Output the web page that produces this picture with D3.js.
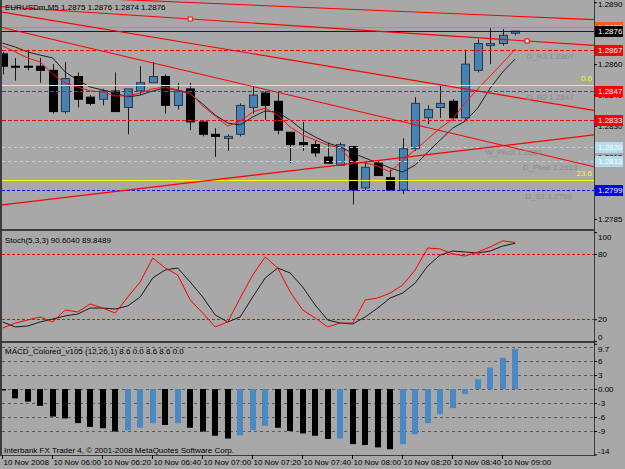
<!DOCTYPE html>
<html>
<head>
<meta charset="utf-8">
<script src="https://cdnjs.cloudflare.com/ajax/libs/d3/7.8.5/d3.min.js"></script>
<style>
html, body { margin: 0; padding: 0; background: #a8a8a8; }
svg { display: block; font-family: "Liberation Sans", Arial, sans-serif; }
</style>
</head>
<body>
<div id="chart"></div>
<script>
// ---- data (EURUSDm M5, 10 Nov 2008 05:40 .. 09:05) ----
var opens  = [1.2865,1.2859,1.2859,1.2859,1.2857,1.2837,1.2854,1.2844,1.2843,1.2847,1.2839,1.2847,1.2851,1.2854,1.2840,1.2848,1.2832,1.2826,1.2824,1.2826,1.2839,1.2846,1.2842,1.2827,1.2822,1.2821,1.2815,1.2811,1.2820,1.2800,1.2812,1.2805,1.2799,1.2819,1.2834,1.2839,1.2842,1.2834,1.2857,1.2869,1.2870,1.2875];
var highs  = [1.2866,1.2863,1.2867,1.2863,1.2860,1.2861,1.2856,1.2845,1.2848,1.2856,1.2848,1.2859,1.2861,1.2855,1.2851,1.2851,1.2832,1.2829,1.2826,1.2841,1.2849,1.2847,1.2847,1.2827,1.2832,1.2823,1.2822,1.2822,1.2820,1.2813,1.2813,1.2809,1.2824,1.2844,1.2840,1.2850,1.2843,1.2867,1.2872,1.2878,1.2877,1.2876];
var lows   = [1.2855,1.2852,1.2857,1.2851,1.2836,1.2836,1.2839,1.2840,1.2840,1.2837,1.2826,1.2845,1.2851,1.2836,1.2838,1.2828,1.2825,1.2815,1.2818,1.2825,1.2836,1.2833,1.2826,1.2812,1.2818,1.2815,1.2812,1.2811,1.2792,1.2799,1.2806,1.2799,1.2797,1.2818,1.2831,1.2834,1.2833,1.2833,1.2856,1.2860,1.2869,1.2874];
var closes = [1.2859,1.2859,1.2859,1.2857,1.2837,1.2853,1.2843,1.2841,1.2847,1.2837,1.2848,1.2851,1.2854,1.2840,1.2847,1.2832,1.2826,1.2825,1.2825,1.2840,1.2845,1.2840,1.2828,1.2821,1.2821,1.2817,1.2812,1.2821,1.2799,1.2810,1.2806,1.2799,1.2819,1.2841,1.2838,1.2841,1.2834,1.2860,1.2870,1.2870,1.2874,1.2876];

// moving averages
var maRed   = [1.28688,1.28659,1.28630,1.28610,1.28552,1.28509,1.28489,1.28470,1.28465,1.28446,1.28446,1.28460,1.28480,1.28489,1.28475,1.28460,1.28397,1.28349,1.28300,1.28324,1.28368,1.28387,1.28353,1.28295,1.28257,1.28232,1.28208,1.28194,1.28126,1.28121,1.28106,1.28077,1.28135,1.28184,1.28237,1.28290,1.28334,1.28412,1.28480,1.28543,1.28606,1.28673];
var maBlack = [1.28702,1.28683,1.28659,1.28644,1.28630,1.28562,1.28523,1.28489,1.28475,1.28460,1.28441,1.28450,1.28470,1.28484,1.28475,1.28455,1.28407,1.28353,1.28315,1.28305,1.28344,1.28373,1.28368,1.28329,1.28281,1.28247,1.28218,1.28198,1.28169,1.28145,1.28121,1.28097,1.28077,1.28111,1.28174,1.28232,1.28290,1.28324,1.28387,1.28484,1.28562,1.28625];

// Stochastic (5,3,3)
var stochMain   = [11.9,16.5,19.3,22.1,17.5,28.5,26.7,34.0,30.3,25.7,40.4,54.2,76.3,67.1,60.7,37.7,25.7,12.9,17.5,39.5,60.7,77.2,67.1,45.0,28.5,21.1,12.9,16.5,16.5,37.7,39.5,44.1,51.5,65.3,85.5,84.6,80.0,78.1,81.8,86.4,92.0,90.6];
var stochSignal = [17.5,12.9,13.8,17.5,20.2,23.0,24.8,30.3,30.3,29.4,32.2,40.4,57.9,65.3,67.1,54.2,40.4,23.9,17.5,22.1,40.4,57.9,67.1,62.5,49.6,33.1,19.3,16.5,15.6,22.1,30.3,39.5,44.1,53.3,68.9,79.0,82.7,81.8,80.9,82.7,87.3,89.8];

// MACD histogram
var macdHist = [-0.3,-2.0,-2.7,-3.6,-5.9,-6.3,-7.3,-8.1,-8.4,-9.1,-8.8,-8.3,-7.3,-7.7,-7.3,-8.3,-9.1,-10.0,-10.6,-9.9,-8.8,-7.9,-8.3,-9.0,-9.5,-10.0,-10.7,-10.6,-11.8,-12.0,-12.5,-12.9,-11.8,-9.7,-7.3,-5.4,-4.1,-1.1,2.1,4.6,6.7,8.6];

// time axis
var timeIdx    = [0,4,8,12,16,20,24,28,32,36,40];
var timeLabels = ["10 Nov 2008","10 Nov 06:00","10 Nov 06:20","10 Nov 06:40","10 Nov 07:00","10 Nov 07:20","10 Nov 07:40","10 Nov 08:00","10 Nov 08:20","10 Nov 08:40","10 Nov 09:00"];

// price axis
var priceTicks = [1.2890,1.2875,1.2860,1.2845,1.2830,1.2815,1.2800,1.2785];
var stochTicks = [100,80,20,0];
var stochLevels = [80,20];
var macdTicks = [9.7,6,3,0,-3,-6,-9,-14];
var macdTickLabels = ["9.7","6","3","0.00","-3","-6","-9","-14"];
var macdLevels = [9,6,3,0,-3,-6,-9];

// chart objects
var redLevels   = [1.2867,1.2847,1.2833];
var cyanLevels  = [1.2820,1.2813];
var blueLevels  = [1.2799];
var fibLevels   = [1.2850,1.2804];
var fibLabels   = ["0.0","23.6"];
var bidPrice = 1.2876;
var askLine  = 1.2878;
var pivotNames  = ["D_R3 1.2867","D_R2 1.2847","W_Pivot 1.2820","D_Pivot 1.2813","D_S1 1.2799"];
var pivotPrices = [1.2867,1.2847,1.2820,1.2813,1.2799];
var pivotAt     = [41.9,41.9,38.6,41.6,41.8];   // bar position of the label text
// trend lines: [barIndex, price] pairs
var trendLines = [
  [[10.2,1.28911],[47.3,1.28816]],
  [[-0.22,1.28879],[47.3,1.28691]],
  [[-0.22,1.28854],[47.3,1.28376]],
  [[-0.22,1.28780],[47.3,1.28103]],
  [[-0.22,1.27917],[47.3,1.28257]]
];
var trendMarks = [[15,1],[41.95,1]]; // [barIndex, trend line number]

// price label boxes on the right scale
var boxPrices = [1.2878,1.2876,1.2867,1.2847,1.2833,1.2820,1.2813,1.2799];
var boxFills  = ["#ff5a1e","#000000","#ff0000","#ff0000","#ff0000","#b4dcec","#b4dcec","#0000ff"];

// ---- layout ----
var W = 625, H = 469;
var plotL = 2, plotR = 594;
var mainTop = 0, mainBot = 229, stTop = 231, stBot = 341, mdTop = 343, mdBot = 455;
var N = closes.length;

var x  = d3.scaleLinear().domain([0, 41]).range([2.7, 515.2]);
var yP = d3.scaleLinear().domain([1.2785, 1.2890]).range([218.9, 2.25]);
var yS = d3.scaleLinear().domain([0, 100]).range([341, 232.2]);
var yM = d3.scaleLinear().domain([-14, 9.7]).range([454.4, 343.7]);

var svg = d3.select("#chart").append("svg")
    .attr("width", W)
    .attr("height", H);

svg.append("rect").attr("width", W).attr("height", H).attr("fill", "#a8a8a8");

var defs = svg.append("defs");
function addClip(id, y0, y1) {
  defs.append("clipPath").attr("id", id)
    .append("rect").attr("x", plotL).attr("y", y0).attr("width", plotR - plotL).attr("height", y1 - y0);
}
addClip("clipMain", mainTop, mainBot);
addClip("clipSt", stTop, stBot);
addClip("clipMd", mdTop, mdBot);

// ---- main pane ----
var gMain = svg.append("g").attr("clip-path", "url(#clipMain)");

var candles = d3.range(N).map(function(i) {
  return {i: i, o: opens[i], h: highs[i], l: lows[i], c: closes[i]};
});

gMain.selectAll("line.wick").data(candles).join("line")
  .attr("class", "wick")
  .attr("x1", function(d) { return Math.round(x(d.i)) + 0.5; })
  .attr("x2", function(d) { return Math.round(x(d.i)) + 0.5; })
  .attr("y1", function(d) { return yP(d.h); })
  .attr("y2", function(d) { return yP(d.l); })
  .attr("stroke", "#1a1a1a")
  .attr("stroke-width", 1);

gMain.selectAll("rect.body").data(candles).join("rect")
  .attr("class", "body")
  .attr("x", function(d) { return Math.round(x(d.i)) - 3.5; })
  .attr("width", 8)
  .attr("y", function(d) { return Math.min(yP(d.o), yP(d.c)); })
  .attr("height", function(d) { return Math.max(1, Math.abs(yP(d.o) - yP(d.c))); })
  .attr("fill", function(d) { return d.c > d.o ? "#4682b4" : "#000"; })
  .attr("stroke", function(d) { return d.c > d.o ? "#2a3a4a" : "#000"; })
  .attr("stroke-width", 1);

var maLine = function(arr) {
  return d3.line().x(function(d, i) { return x(i); }).y(function(d) { return yP(d); })(arr);
};
gMain.append("path").attr("d", maLine(maBlack)).attr("fill", "none").attr("stroke", "#202020").attr("stroke-width", 1);
gMain.append("path").attr("d", maLine(maRed)).attr("fill", "none").attr("stroke", "#ff1010").attr("stroke-width", 1);

// horizontal objects
function hLine(g, p, color, dash, w) {
  g.append("line")
    .attr("x1", plotL).attr("x2", plotR)
    .attr("y1", Math.round(yP(p)) + 0.5).attr("y2", Math.round(yP(p)) + 0.5)
    .attr("stroke", color).attr("stroke-width", w || 1)
    .attr("stroke-dasharray", dash);
}
redLevels.forEach(function(p) { hLine(gMain, p, "#ff0000", "4,2"); });
cyanLevels.forEach(function(p) { hLine(gMain, p, "#add8e6", "3,3"); });
blueLevels.forEach(function(p) { hLine(gMain, p, "#0000ff", "3,2"); });
fibLevels.forEach(function(p) { hLine(gMain, p, "#ffff00", null); });
hLine(gMain, askLine, "#e27a6c", null);
hLine(gMain, bidPrice, "#1a1a1a", null);

// trend lines, extended across the pane
trendLines.forEach(function(tl) {
  var a = tl[0], b = tl[1];
  var f = function(i) { return a[1] + (b[1] - a[1]) * (i - a[0]) / (b[0] - a[0]); };
  var i0 = x.invert(plotL), i1 = x.invert(plotR);
  gMain.append("line")
    .attr("x1", x(i0)).attr("y1", yP(f(i0)))
    .attr("x2", x(i1)).attr("y2", yP(f(i1)))
    .attr("stroke", "#ff0000").attr("stroke-width", 1.1);
});
trendMarks.forEach(function(m) {
  var tl = trendLines[m[1]], a = tl[0], b = tl[1];
  var p = a[1] + (b[1] - a[1]) * (m[0] - a[0]) / (b[0] - a[0]);
  gMain.append("rect")
    .attr("x", x(m[0]) - 2).attr("y", yP(p) - 2)
    .attr("width", 4).attr("height", 4)
    .attr("fill", "#fff").attr("stroke", "#ff0000").attr("stroke-width", 1);
});

// pivot labels
pivotNames.forEach(function(t, k) {
  gMain.append("text")
    .attr("x", x(pivotAt[k])).attr("y", yP(pivotPrices[k]) + 6)
    .attr("dy", "0.35em")
    .attr("font-size", 8).attr("fill", "#8a8a8a")
    .text(t);
});
fibLabels.forEach(function(t, k) {
  gMain.append("text")
    .attr("x", 592).attr("y", yP(fibLevels[k]) - 4)
    .attr("text-anchor", "end")
    .attr("font-size", 8).attr("fill", "#ffff00")
    .text(t);
});

svg.append("text").attr("x", 5).attr("y", 10).attr("font-size", 8).attr("fill", "#000")
  .text("EURUSDm,M5  " + [opens[N-1], highs[N-1], lows[N-1], closes[N-1]].map(d3.format(".4f")).join(" "));

// ---- stochastic pane ----
var gSt = svg.append("g").attr("clip-path", "url(#clipSt)");
stochLevels.forEach(function(v) {
  gSt.append("line").attr("x1", plotL).attr("x2", plotR)
    .attr("y1", Math.round(yS(v)) + 0.5).attr("y2", Math.round(yS(v)) + 0.5)
    .attr("stroke", "#ff0000").attr("stroke-dasharray", "3,2");
});
var stLine = d3.line().x(function(d, i) { return x(i); }).y(function(d) { return yS(d); });
gSt.append("path").attr("d", stLine(stochSignal)).attr("fill", "none").attr("stroke", "#1a1a1a").attr("stroke-width", 1);
gSt.append("path").attr("d", stLine(stochMain)).attr("fill", "none").attr("stroke", "#ff0000").attr("stroke-width", 1);
svg.append("text").attr("x", 5).attr("y", 243).attr("font-size", 8).attr("fill", "#000")
  .text("Stoch(5,3,3) 90.6040 89.8489");

// ---- MACD pane ----
var gMd = svg.append("g").attr("clip-path", "url(#clipMd)");
macdLevels.forEach(function(v) {
  gMd.append("line").attr("x1", plotL).attr("x2", plotR)
    .attr("y1", Math.round(yM(v)) + 0.5).attr("y2", Math.round(yM(v)) + 0.5)
    .attr("stroke", "#5a5a5a").attr("stroke-dasharray", "3,3");
});
gMd.selectAll("rect.hist").data(macdHist).join("rect")
  .attr("class", "hist")
  .attr("x", function(d, i) { return Math.round(x(i)) - 3; })
  .attr("width", 6)
  .attr("y", function(d) { return Math.min(yM(0), yM(d)); })
  .attr("height", function(d) { return Math.abs(yM(d) - yM(0)); })
  .attr("fill", function(d, i) { return i > 0 && d > macdHist[i - 1] ? "#4a89c4" : "#000"; });
svg.append("text").attr("x", 5).attr("y", 354).attr("font-size", 8).attr("fill", "#000")
  .text("MACD_Colored_v105 (12,26,1) 8.6 0.0 8.6 8.6 0.0");
svg.append("text").attr("x", 4).attr("y", 453).attr("font-size", 8).attr("fill", "#000")
  .text("Interbank FX Trader 4, \u00a9 2001-2008 MetaQuotes Software Corp.");

// ---- frame ----
var frame = svg.append("g").attr("stroke", "#3c3c3c").attr("fill", "none");
frame.append("line").attr("x1", 1).attr("x2", 1).attr("y1", 0).attr("y2", mdBot).attr("stroke-width", 2);
frame.append("line").attr("x1", plotR + 0.5).attr("x2", plotR + 0.5).attr("y1", 0).attr("y2", mdBot).attr("stroke-width", 1);
[mainBot + 1, stBot + 1].forEach(function(y) {
  frame.append("line").attr("x1", 0).attr("x2", plotR).attr("y1", y).attr("y2", y).attr("stroke-width", 2);
});
frame.append("line").attr("x1", 0).attr("x2", plotR + 1).attr("y1", mdBot + 0.5).attr("y2", mdBot + 0.5).attr("stroke-width", 1);

// ---- right axes ----
function styleAxis(g) {
  g.attr("font-family", null).attr("font-size", 8);
  g.select(".domain").remove();
  g.selectAll(".tick line").attr("stroke", "#000");
  g.selectAll(".tick text").attr("fill", "#000");
}
svg.append("g").attr("transform", "translate(" + plotR + ",0)")
  .call(d3.axisRight(yP).tickValues(priceTicks).tickSize(3).tickPadding(1).tickFormat(d3.format(".4f")))
  .call(styleAxis)
  .selectAll(".tick text").attr("y", function(d) { return Math.max(yP(d), 4) - yP(d); });

var clampY = function(y, lo, hi) { return Math.max(lo, Math.min(hi, y)); };
svg.append("g").attr("transform", "translate(" + plotR + ",0)")
  .call(d3.axisRight(yS).tickValues(stochTicks).tickSize(3).tickPadding(1))
  .call(styleAxis)
  .selectAll(".tick text").attr("y", function(d) { return clampY(yS(d), 237, 337) - yS(d); });

svg.append("g").attr("transform", "translate(" + plotR + ",0)")
  .call(d3.axisRight(yM).tickValues(macdTicks).tickSize(3).tickPadding(1)
    .tickFormat(function(d, i) { return macdTickLabels[i]; }))
  .call(styleAxis)
  .selectAll(".tick text").attr("y", function(d) { return clampY(yM(d), 349, 451) - yM(d); });

// price boxes over the price scale
var gBox = svg.append("g");
boxPrices.forEach(function(p, k) {
  var y = Math.round(yP(p));
  gBox.append("rect").attr("x", 595).attr("y", y - 5).attr("width", 28).attr("height", 11)
    .attr("fill", boxFills[k]);
  gBox.append("text").attr("x", 598).attr("y", y).attr("dy", "0.35em")
    .attr("font-size", 8).attr("fill", "#fff")
    .text(d3.format(".4f")(p));
});

// ---- time axis ----
var gT = svg.append("g");
timeIdx.forEach(function(idx, k) {
  var tx = Math.round(x(idx)) - 0.5;
  gT.append("line").attr("x1", tx).attr("x2", tx).attr("y1", mdBot).attr("y2", mdBot + 4)
    .attr("stroke", "#000");
  gT.append("text").attr("x", tx + 1).attr("y", 465).attr("font-size", 8).attr("fill", "#000")
    .text(timeLabels[k]);
});
</script>
</body>
</html>
